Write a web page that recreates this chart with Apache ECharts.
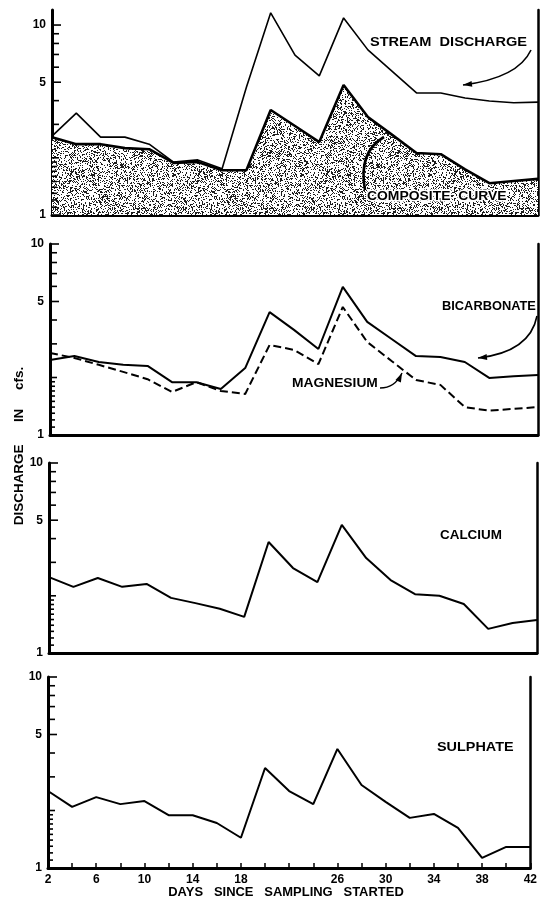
<!DOCTYPE html>
<html>
<head>
<meta charset="utf-8">
<script src="https://cdn.jsdelivr.net/npm/echarts@6/dist/echarts.min.js"></script>
<style>
html,body{margin:0;padding:0;background:#fff;}
#chart{width:540px;height:903px;}
</style>
</head>
<body>
<div id="chart"></div>
<script>
// ---------------- data ----------------
const days = [2, 4, 6, 8, 10, 12, 14, 16, 18, 20, 22, 24, 26, 28, 30, 32, 34, 36, 38, 40, 42];
const streamDischarge = [2.6, 3.44, 2.57, 2.57, 2.36, 1.90, 1.95, 1.75, 4.7, 11.6, 6.95, 5.4, 10.9, 7.4, 5.7, 4.39, 4.39, 4.13, 3.98, 3.9, 3.93];
const compositeCurve  = [2.57, 2.36, 2.36, 2.25, 2.22, 1.88, 1.90, 1.72, 1.72, 3.57, 2.94, 2.42, 4.83, 3.28, 2.64, 2.12, 2.09, 1.74, 1.47, 1.51, 1.55];
const bicarbonate     = [2.47, 2.59, 2.41, 2.33, 2.30, 1.89, 1.89, 1.74, 2.24, 4.40, 3.55, 2.82, 5.96, 3.91, 3.18, 2.59, 2.56, 2.41, 1.99, 2.03, 2.06];
const magnesium       = [2.69, 2.53, 2.33, 2.14, 1.96, 1.68, 1.89, 1.70, 1.64, 2.96, 2.79, 2.35, 4.68, 3.07, 2.44, 1.94, 1.83, 1.40, 1.34, 1.37, 1.40];
const calcium         = [2.51, 2.23, 2.48, 2.23, 2.31, 1.95, 1.83, 1.71, 1.55, 3.84, 2.80, 2.36, 4.72, 3.16, 2.42, 2.04, 2.00, 1.81, 1.34, 1.44, 1.49];
const sulphate        = [2.53, 2.09, 2.35, 2.16, 2.24, 1.89, 1.89, 1.72, 1.44, 3.34, 2.53, 2.16, 4.20, 2.72, 2.22, 1.83, 1.92, 1.62, 1.13, 1.29, 1.29];

const yTickVals = [1, 1.1, 1.2, 1.3, 1.4, 1.5, 1.6, 1.7, 1.8, 1.9, 2, 3, 4, 5, 6, 7, 8, 9, 10];
const yLabelVals = [1, 5, 10];
const xLabelMap = {2: '2', 6: '6', 10: '10', 14: '14', 18: '18', 26: '26', 30: '30', 34: '34', 38: '38', 42: '42'};
const xMin = 2, xMax = 42, xStep = 2;

// ---------------- layout / style ----------------
const FONT = 'Liberation Sans';
const grids = [
  {left: 52, right: 2, top: 10, height: 205},
  {left: 50, right: 2, top: 244, height: 191},
  {left: 49, right: 3, top: 463, height: 190},
  {left: 48, right: 5, top: 677, height: 191}
];
const yMaxes = [12, 10, 10, 10];

function pairs(vals) { return days.map((d, i) => [d, vals[i]]); }

// stipple texture (deterministic hash)
function stipple() {
  const s = 128;
  const c = document.createElement('canvas');
  c.width = s; c.height = s;
  const g = c.getContext('2d');
  const img = g.createImageData(s, s);
  for (let y = 0; y < s; y++) {
    for (let x = 0; x < s; x++) {
      let n = Math.imul(x, 374761393) + Math.imul(y, 668265263);
      n = Math.imul(n ^ (n >>> 13), 1274126177);
      n = (n ^ (n >>> 16)) >>> 0;
      const h = n / 4294967296;
      const k = (y * s + x) * 4;
      const on = h < 0.3;
      const val = on ? 30 : 255;
      img.data[k] = val; img.data[k + 1] = val; img.data[k + 2] = val;
      img.data[k + 3] = 255;
    }
  }
  g.putImageData(img, 0, 0);
  return c;
}

const xAxes = grids.map((g, i) => ({
  type: 'value', gridIndex: i, min: xMin, max: xMax, interval: xStep,
  axisLine: {show: true, onZero: false, lineStyle: {color: '#000', width: 3}},
  axisTick: {show: i === 3, inside: true, length: 5, lineStyle: {color: '#000', width: 1.5}},
  axisLabel: {
    show: i === 3, margin: 6, color: '#000', fontFamily: FONT, fontWeight: 'bold', fontSize: 12,
    formatter: v => xLabelMap[v] || ''
  },
  splitLine: {show: false}
}));

const yAxes = [];
grids.forEach((g, i) => {
  yAxes.push({
    type: 'log', logBase: 10, gridIndex: i, min: 1, max: yMaxes[i], position: 'left',
    axisLine: {show: true, onZero: false, lineStyle: {color: '#000', width: 3}},
    axisTick: {show: false}, axisLabel: {show: false}, splitLine: {show: false}
  });
  yAxes.push({
    type: 'log', logBase: 10, gridIndex: i, min: 1, max: yMaxes[i], position: 'right',
    axisLine: {show: true, onZero: false, lineStyle: {color: '#000', width: 2.5}},
    axisTick: {show: false}, axisLabel: {show: false}, splitLine: {show: false}
  });
});

function tickSeries(i) {
  return {
    type: 'custom', xAxisIndex: i, yAxisIndex: 2 * i, clip: false, silent: true,
    data: yTickVals.map(v => [xMin, v]),
    encode: {x: 0, y: 1},
    renderItem: (params, api) => {
      const v = api.value(1);
      const p = api.coord([api.value(0), v]);
      const major = yLabelVals.indexOf(v) >= 0;
      const len = major ? 9 : (Number.isInteger(v) ? 7 : 5);
      const children = [{
        type: 'line',
        shape: {x1: p[0], y1: p[1], x2: p[0] + len, y2: p[1]},
        style: {stroke: '#000', lineWidth: 1.6}
      }];
      if (major) {
        children.push({
          type: 'text', x: p[0] - 6, y: p[1],
          style: {text: String(v), align: 'right', verticalAlign: 'middle',
                  textAlign: 'right', textVerticalAlign: 'middle',
                  font: 'bold 12px ' + FONT, fill: '#000'}
        });
      }
      return {type: 'group', children};
    }
  };
}

function lineSeries(name, vals, i, width, dash) {
  return {
    name, type: 'line', xAxisIndex: i, yAxisIndex: 2 * i,
    data: pairs(vals), symbol: 'none', clip: false,
    lineStyle: {color: '#000', width, type: dash || 'solid'},
    z: 3
  };
}

const series = [
  {
    name: 'Composite curve', type: 'line', xAxisIndex: 0, yAxisIndex: 0,
    data: pairs(compositeCurve), symbol: 'none',
    lineStyle: {color: '#000', width: 2.6},
    areaStyle: {color: {image: stipple(), repeat: 'repeat'}, opacity: 1},
    z: 2
  },
  lineSeries('Stream discharge', streamDischarge, 0, 1.6),
  lineSeries('Bicarbonate', bicarbonate, 1, 2),
  lineSeries('Magnesium', magnesium, 1, 2, [8, 4]),
  lineSeries('Calcium', calcium, 2, 2),
  lineSeries('Sulphate', sulphate, 3, 2),
  tickSeries(0), tickSeries(1), tickSeries(2), tickSeries(3)
];

// ---------------- annotations ----------------
function txt(text, x, y, size, sx, align, halo) {
  const st = {text, font: 'bold ' + size + 'px ' + FONT, fill: '#000',
              align: align || 'left', verticalAlign: 'middle',
              textAlign: align || 'left', textVerticalAlign: 'middle'};
  if (halo) { st.stroke = '#fff'; st.lineWidth = 3; }
  return {type: 'text', x, y, z: 50, scaleX: sx || 1, style: st};
}
function arrow(x1, y1, cx, cy, x2, y2, w, head) {
  const els = [{
    type: 'bezierCurve', z: 50,
    shape: {x1, y1, x2, y2, cpx1: cx, cpy1: cy},
    style: {stroke: '#000', lineWidth: w, fill: null}
  }];
  if (head) {
    const ang = Math.atan2(y2 - cy, x2 - cx);
    const L = 9, W = 3;
    const bx = x2 - L * Math.cos(ang), by = y2 - L * Math.sin(ang);
    els.push({
      type: 'polygon', z: 50,
      shape: {points: [[x2, y2], [bx - W * Math.sin(ang), by + W * Math.cos(ang)], [bx + W * Math.sin(ang), by - W * Math.cos(ang)]]},
      style: {fill: '#000'}
    });
  }
  return els;
}

const graphic = [
  txt('STREAM  DISCHARGE', 370, 42, 13, 1.12),
  txt('COMPOSITE  CURVE', 367, 196, 13, 1.07, 'left', true),
  txt('BICARBONATE', 442, 307, 12, 1.07),
  txt('MAGNESIUM', 292, 384, 12, 1.15),
  txt('CALCIUM', 440, 536, 12, 1.12),
  txt('SULPHATE', 437, 748, 12, 1.2),
  txt('DAYS   SINCE   SAMPLING   STARTED', 286, 893, 12, 1.08, 'center'),
  {
    type: 'text', x: 20, y: 446, rotation: Math.PI / 2, scaleX: 1.12, z: 50,
    style: {text: 'DISCHARGE      IN     cfs.', font: 'bold 12px ' + FONT, fill: '#000',
            align: 'center', verticalAlign: 'middle', textAlign: 'center', textVerticalAlign: 'middle'}
  },
  ...arrow(531, 50, 518, 78, 463, 85, 1.6, true),
  ...arrow(365, 190, 358, 152, 384, 137, 2.6, false),
  ...arrow(537, 316, 530, 352, 478, 358, 1.6, true),
  ...arrow(380, 388, 395, 388, 402, 373, 1.4, true)
];

const chart = echarts.init(document.getElementById('chart'), null, {renderer: 'canvas'});
chart.setOption({
  animation: false,
  backgroundColor: '#fff',
  grid: grids,
  xAxis: xAxes,
  yAxis: yAxes,
  series,
  graphic
});
</script>
</body>
</html>
